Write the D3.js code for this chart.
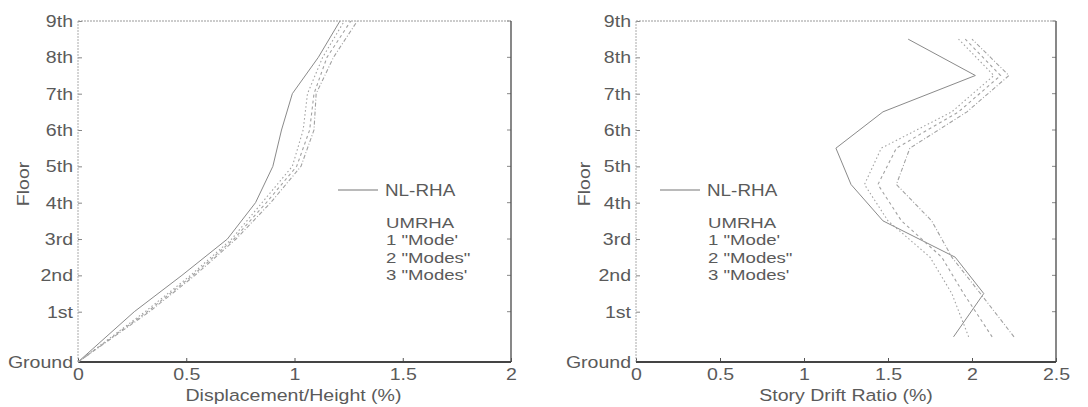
<!DOCTYPE html>
<html>
<head>
<meta charset="utf-8">
<script src="https://cdn.jsdelivr.net/npm/d3@7/dist/d3.min.js"></script>
<style>
  html, body { margin: 0; padding: 0; background: #fff; }
  svg { display: block; }
  text { font-family: "Liberation Sans", Arial, Helvetica, sans-serif; fill: #5a5a5a; }
</style>
</head>
<body>
<svg id="chart" width="1088" height="407"></svg>
<script>
// Floor levels (elevation above ground, ft) and their labels
const floorLabels = ["Ground", "1st", "2nd", "3rd", "4th", "5th", "6th", "7th", "8th", "9th"];
const floorElev = [0, 18, 31, 44, 57, 70, 83, 96, 109, 122];

// Peak floor displacement / building height (%), Ground .. 9th
const dispNLRHA = [0, 0.26, 0.48, 0.69, 0.82, 0.90, 0.94, 0.99, 1.11, 1.21];
const dispMode1 = [0, 0.31, 0.52, 0.71, 0.85, 0.99, 1.04, 1.06, 1.13, 1.23];
const dispMode2 = [0, 0.32, 0.53, 0.72, 0.87, 1.01, 1.07, 1.09, 1.15, 1.26];
const dispMode3 = [0, 0.33, 0.54, 0.73, 0.89, 1.03, 1.09, 1.10, 1.18, 1.29];

// Peak story drift ratio (%), stories 1 .. 9 (plotted at mid-story)
const driftNLRHA = [1.89, 2.07, 1.90, 1.47, 1.28, 1.19, 1.47, 2.02, 1.62];
const driftMode1 = [1.98, 1.88, 1.75, 1.50, 1.36, 1.46, 1.88, 2.13, 1.92];
const driftMode2 = [2.12, 1.95, 1.82, 1.58, 1.44, 1.55, 1.92, 2.17, 1.96];
const driftMode3 = [2.25, 2.05, 1.88, 1.76, 1.55, 1.63, 1.97, 2.22, 2.00];

const dispTicks = [0, 0.5, 1, 1.5, 2];
const driftTicks = [0, 0.5, 1, 1.5, 2, 2.5];
const legendLines = ["UMRHA", "1 \"Mode'", "2 \"Modes\"", "3 \"Modes'"];

const svg = d3.select("#chart");
const plotTop = 21, plotBottom = 362;
const y = d3.scaleLinear().domain([0, 122]).range([plotBottom, plotTop]);
const storyMid = floorElev.slice(1).map((e, i) => (e + floorElev[i]) / 2);
const FONT = 17, WIDEN = 1.15;
const LEG_FONT = 15, LEG_WIDEN = 1.24;

const seriesStyle = [
  { dash: null, color: "#8a8a8a", width: 1 },
  { dash: "1.5,2.5", color: "#a2a2a2", width: 1.1 },
  { dash: "3,3", color: "#a2a2a2", width: 1.1 },
  { dash: "4,2,1,2", color: "#a2a2a2", width: 1.1 }
];

// widened lettering, scaled about each label's anchor point
function widen(sel, k = WIDEN) {
  sel.attr("transform", function () {
    const ax = +this.getAttribute("x") || 0;
    return `translate(${ax},0) scale(${k},1) translate(${-ax},0)`;
  });
}

function panel(opts) {
  const x = d3.scaleLinear().domain(opts.xDomain).range([opts.left, opts.right]);
  const g = svg.append("g");

  // y axis with floor labels, ticks pointing inward
  const ya = g.append("g").attr("transform", `translate(${opts.left},0)`)
    .call(d3.axisLeft(y).tickValues(floorElev)
      .tickFormat((d, i) => floorLabels[i]).tickSize(-4).tickPadding(5));
  ya.select(".domain").remove();
  ya.selectAll("line").attr("stroke", "#888");
  ya.selectAll("text").attr("font-size", FONT).attr("fill", "#5a5a5a").call(widen);

  // x axis
  const xa = g.append("g").attr("transform", `translate(0,${plotBottom})`)
    .call(d3.axisBottom(x).tickValues(opts.ticks)
      .tickFormat(d3.format("")).tickSize(-4).tickPadding(6));
  xa.select(".domain").remove();
  xa.selectAll("line").attr("stroke", "#555");
  xa.selectAll("text").attr("font-size", FONT).attr("fill", "#777").call(widen);

  // mirrored ticks on the right edge
  g.selectAll(".rt").data(floorElev).join("line")
    .attr("x1", opts.right).attr("x2", opts.right - 4)
    .attr("y1", d => y(d)).attr("y2", d => y(d))
    .attr("stroke", "#888");

  // frame: faint top/left, darker bottom/right
  g.append("line").attr("x1", opts.left).attr("x2", opts.right)
    .attr("y1", plotTop).attr("y2", plotTop)
    .attr("stroke", "#999").attr("stroke-dasharray", "2,1");
  g.append("line").attr("x1", opts.left).attr("x2", opts.left)
    .attr("y1", plotTop).attr("y2", plotBottom)
    .attr("stroke", "#aaa").attr("stroke-dasharray", "2,1");
  g.append("line").attr("x1", opts.right).attr("x2", opts.right)
    .attr("y1", plotTop).attr("y2", plotBottom)
    .attr("stroke", "#555").attr("stroke-width", 1.4);
  g.append("line").attr("x1", opts.left).attr("x2", opts.right)
    .attr("y1", plotBottom).attr("y2", plotBottom)
    .attr("stroke", "#444").attr("stroke-width", 1.8);

  // data lines
  const line = d3.line().x(d => x(d[0])).y(d => y(d[1]));
  opts.series.forEach((vals, k) => {
    const st = seriesStyle[k];
    g.append("path")
      .datum(vals.map((v, i) => [v, opts.levels[i]]))
      .attr("d", line)
      .attr("fill", "none")
      .attr("stroke", st.color)
      .attr("stroke-width", st.width)
      .attr("stroke-dasharray", st.dash);
  });

  // axis titles
  g.append("text").attr("x", (opts.left + opts.right) / 2 + opts.titleShift)
    .attr("y", 401).attr("text-anchor", "middle")
    .attr("font-size", FONT).attr("fill", "#666").text(opts.xTitle).call(widen);
  g.append("text")
    .attr("transform", `translate(${opts.floorX},184) rotate(-90) scale(${WIDEN},1)`)
    .attr("text-anchor", "middle").attr("font-size", FONT).attr("fill", "#666").text("Floor");

  // legend
  const lg = g.append("g").attr("transform", `translate(${opts.legendX},190)`);
  lg.append("line").attr("x1", 0).attr("x2", 40).attr("y1", 0).attr("y2", 0)
    .attr("stroke", "#777").attr("stroke-width", 1.1);
  lg.append("text").attr("x", 47).attr("y", 6).attr("font-size", LEG_FONT + 1)
    .text("NL-RHA").call(widen, LEG_WIDEN - 0.06);
  lg.selectAll(".lt").data(legendLines).join("text")
    .attr("x", 48).attr("y", (d, i) => 38 + i * 17.5)
    .attr("font-size", LEG_FONT).text(d => d).call(widen, LEG_WIDEN);
}

panel({
  left: 78, right: 511, xDomain: [0, 2], ticks: dispTicks,
  levels: floorElev,
  series: [dispNLRHA, dispMode1, dispMode2, dispMode3],
  xTitle: "Displacement/Height (%)", titleShift: -1, floorX: 29, legendX: 338
});

panel({
  left: 636, right: 1056, xDomain: [0, 2.5], ticks: driftTicks,
  levels: storyMid,
  series: [driftNLRHA, driftMode1, driftMode2, driftMode3],
  xTitle: "Story Drift Ratio (%)", titleShift: 0, floorX: 590, legendX: 660
});
</script>
</body>
</html>
